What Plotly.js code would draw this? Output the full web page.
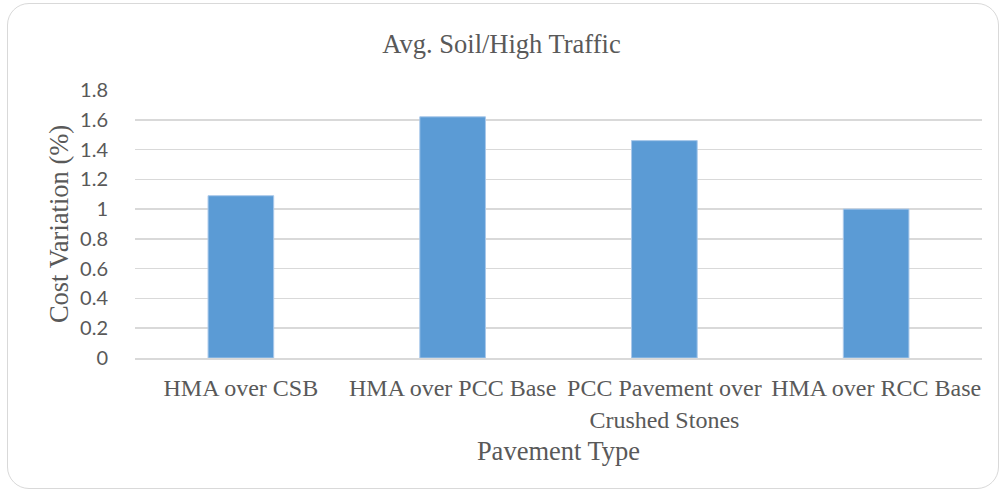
<!DOCTYPE html>
<html><head><meta charset="utf-8">
<script src="https://cdn.plot.ly/plotly-3.0.1.min.js"></script>
<style>
html,body{margin:0;padding:0;background:#fff;}
#wrap{position:relative;width:1003px;height:493px;}
#chart{width:1003px;height:493px;}
#frame{position:absolute;left:7px;top:3px;width:992px;height:486px;border:1.5px solid #d9d9d9;border-radius:22px;pointer-events:none;box-sizing:border-box;}
</style></head>
<body>
<div id="wrap"><div id="chart"></div><div id="frame"></div></div>
<script>
const categories = ["HMA over CSB", "HMA over PCC Base", "PCC Pavement over<br>Crushed Stones", "HMA over RCC Base"];
const costVariation = [1.09, 1.62, 1.46, 1.00];
const yTicks = [0, 0.2, 0.4, 0.6, 0.8, 1, 1.2, 1.4, 1.6, 1.8];
const yTickText = ["0", "0.2", "0.4", "0.6", "0.8", "1", "1.2", "1.4", "1.6", "1.8"];

const trace = {
  type: 'bar',
  x: categories,
  y: costVariation,
  marker: {color: '#5b9bd5', line: {color: '#a9c8ea', width: 1}},
  hoverinfo: 'x+y'
};
const layout = {
  width: 1003, height: 493,
  margin: {l: 135, r: 21, t: 90, b: 135},
  paper_bgcolor: '#ffffff', plot_bgcolor: '#ffffff',
  showlegend: false,
  bargap: 0.69,
  title: {text: 'Avg. Soil/High Traffic', font: {family: 'Liberation Serif', size: 26.5, color: '#595959'}, x: 0.5, xanchor: 'center', xref: 'container', yref: 'container', y: 0.911, yanchor: 'middle'},
  xaxis: {
    type: 'category',
    showgrid: false, zeroline: false,
    showline: true, linecolor: '#d9d9d9', linewidth: 1.5,
    ticks: 'outside', ticklen: 8, tickcolor: 'rgba(0,0,0,0)',
    tickfont: {family: 'Liberation Serif', size: 24, color: '#595959'},
    title: {text: 'Pavement Type', font: {family: 'Liberation Serif', size: 26.5, color: '#595959'}, standoff: 10},
    automargin: false
  },
  yaxis: {
    range: [0, 1.8],
    tickvals: yTicks, ticktext: yTickText,
    showgrid: true, gridcolor: '#d9d9d9', gridwidth: 1.5,
    zeroline: false, showline: false,
    ticks: 'outside', ticklen: 22, tickcolor: 'rgba(0,0,0,0)',
    tickfont: {family: 'Lato', size: 20, color: '#595959'},
    title: {text: 'Cost Variation (%)', font: {family: 'Liberation Serif', size: 26.5, color: '#595959'}, standoff: 3},
    automargin: false
  }
};
Plotly.newPlot('chart', [trace], layout, {displayModeBar: false, staticPlot: true});
</script>
</body></html>
